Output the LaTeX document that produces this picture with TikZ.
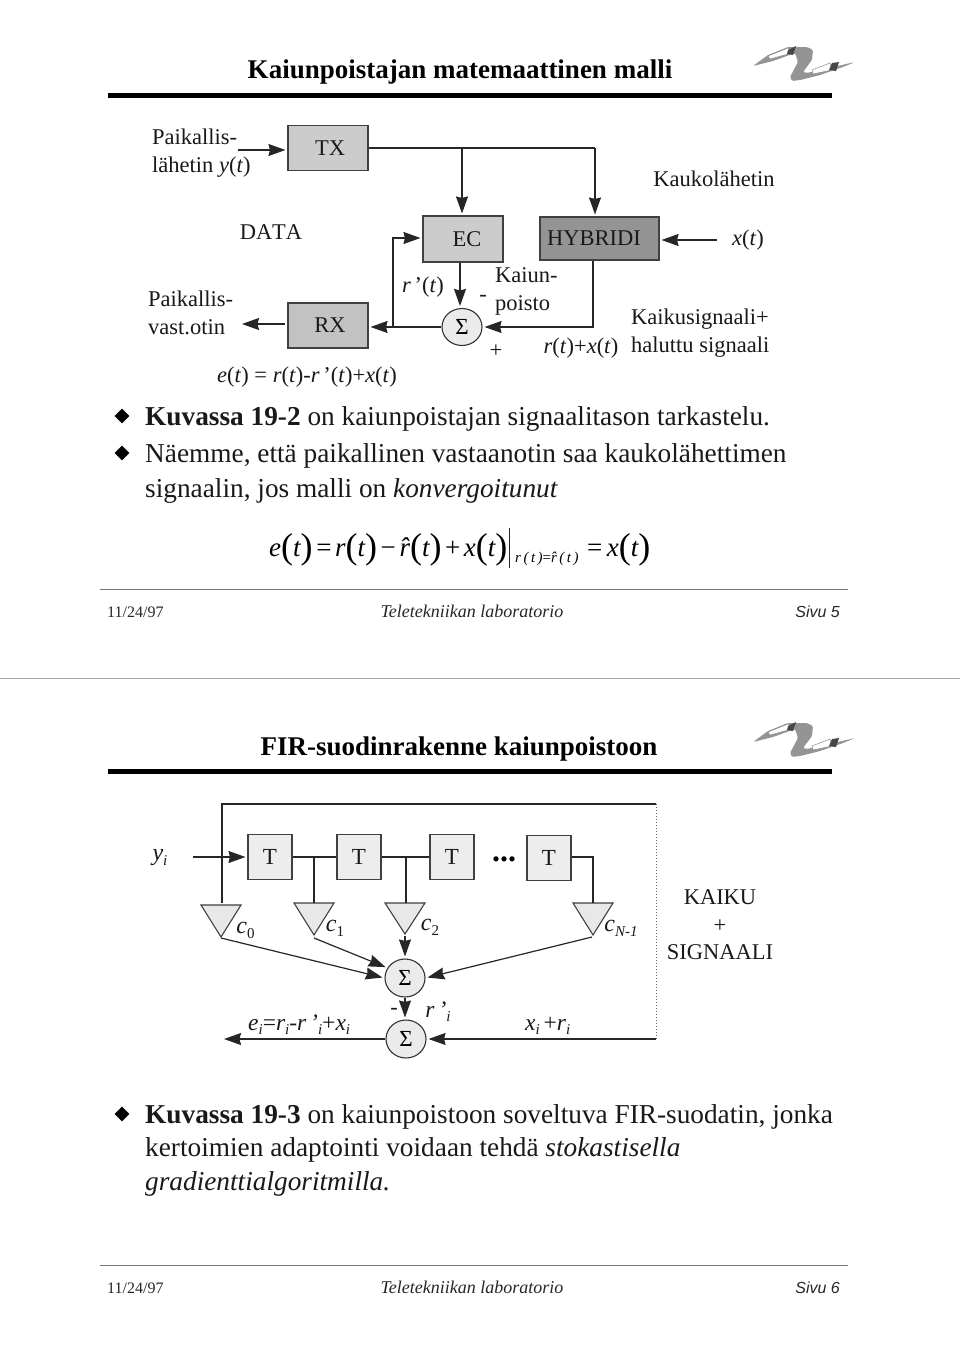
\documentclass[tikz,border=0pt]{standalone}
\usepackage{fontspec}
\setmainfont{Liberation Serif}
\newfontfamily\helv{Liberation Sans}
\usetikzlibrary{arrows.meta,shapes.geometric}
\newcommand{\fs}[1]{\fontsize{#1}{#1}\selectfont}
\newcommand{\bigp}[1]{{\fs{36}\upshape\raisebox{-2pt}{#1}}}
\newcommand{\sbi}[1]{{\fs{15}\raisebox{-4pt}{#1}}}
\tikzset{
  x=1pt,y=-1pt,
  wire/.style={draw=black!85,line width=1.2pt},
  arr/.style={wire,-{Stealth[length=17pt,width=12pt,inset=1.5pt]},shorten >=2pt},
  blk/.style={draw=black!75,line width=1.1pt,minimum width=#1,inner sep=0pt,anchor=center,font=\fs{22.5},text=black!90},
  blk/.default=80pt,
  dtxt/.style={inner sep=0pt,font=\fs{22.5},align=center,text=black!90},
  body/.style={inner sep=0pt,font=\fs{27.3},anchor=base west,text=black!90},
  foot/.style={inner sep=0pt,font=\fs{18},anchor=base,text=black!85},
  datef/.style={inner sep=0pt,font=\fs{16},anchor=base west,text=black!85},
  pagef/.style={inner sep=0pt,font=\helv\itshape\fs{16},anchor=base east,text=black!85},
  tbox/.style={draw=black!75,line width=1.1pt,fill=black!7,minimum width=44pt,minimum height=45pt,inner sep=0pt,font=\fs{23},text=black!90},
  sig/.style={ellipse,draw=black!80,line width=1.1pt,fill=black!8,minimum width=40pt,minimum height=37pt,inner sep=0pt,font=\fs{23}},
  tri/.style={draw=black!75,line width=1.1pt,fill=black!9},
  heading/.style={inner sep=0pt,font=\bfseries\fs{27},text=black},
  bullet/.style={diamond,aspect=0.75,fill=black,minimum width=15pt,minimum height=15pt,inner sep=0pt},
  hrule/.style={draw=black!55,line width=0.8pt},
  logogray/.style={fill=black!42,rounded corners=1.5pt},
  logodark/.style={fill=black!72},
  logowhite/.style={fill=white,draw=black!45,line width=0.5pt},
}
\newcommand{\logo}[1]{%
\begin{scope}[shift={(0,#1)}]
  \fill[logogray] (753,66) -- (768,55) -- (788,47) -- (807,47) -- (813,50) -- (812,60) -- (803,72) -- (807,73) -- (855,62) -- (843,67) -- (820,75) -- (800,80) -- (792,81) -- (790,77) -- (798,62) -- (795,53) -- (773,61) -- cycle;
  \fill[logowhite] (768,56) -- (788,48) -- (792,53) -- (770,59) -- cycle;
  \fill[logowhite] (812,70) -- (830,63) -- (832,70) -- (813,74) -- cycle;
  \fill[logodark] (788,50) -- (796,46) -- (793,55) -- (787,54) -- cycle;
  \fill[logodark] (832,63) -- (839,62) -- (836,71) -- (829,70) -- cycle;
\end{scope}}
\begin{document}
\begin{tikzpicture}
\useasboundingbox (0,0) rectangle (960,1357);
\fill[white] (0,0) rectangle (960,1357);

% ---------- slide 1
\node[heading] (title1) at (460,72) {Kaiunpoistajan matemaattinen malli};
\logo{0}
\fill[black] (108,93) rectangle (832,98);

\node[blk,minimum height=45pt,fill=black!20] (tx) at (328,148) {\kern4pt TX};
\node[blk,minimum height=46pt,fill=black!20] (ec) at (463,239) {\kern8pt EC};
\node[blk=119pt,minimum height=43pt,fill=black!42] (hy) at (599.5,238.5) {HYBRIDI\kern11pt};
\node[blk,minimum height=45pt,fill=black!24] (rx) at (328,325.5) {\kern4pt RX};
\node[sig] (s0) at (462,327) {Σ};

\node[dtxt,align=left,anchor=north west] (lt) at (152,129) {Paikallis-\\[5.5pt]lähetin \textit{y}(\textit{t})};
\node[dtxt,align=left,anchor=north west] (lr) at (148,291) {Paikallis-\\[5.5pt]vast.otin};
\node[dtxt] (data) at (271,232) {\addfontfeature{Kerning=Off}DATA};
\node[dtxt] (kl) at (714,179) {Kaukolähetin};
\node[dtxt] (xt) at (748,240) {\textit{x}(\textit{t})};
\node[dtxt] (rp) at (423,287) {\textit{r}\,’(\textit{t})};
\node[dtxt] (minus) at (483,298) {-};
\node[dtxt,align=left,anchor=north west] (kp) at (495,267) {Kaiun-\\[5.5pt]poisto};
\node[dtxt] (plus) at (496,351) {+};
\node[dtxt] (rx2) at (581,348) {\textit{r}(\textit{t})+\textit{x}(\textit{t})};
\node[dtxt,align=left,anchor=north west] (ks) at (631,309) {Kaikusignaali+\\[5.5pt]haluttu signaali};
\node[dtxt] (et) at (307,377) {\textit{e}(\textit{t}) = \textit{r}(\textit{t})-\textit{r}\,’(\textit{t})+\textit{x}(\textit{t})};

\coordinate (a1) at (238,150);
\coordinate (a2) at (286,150);
\coordinate (b1) at (595,148);
\coordinate (b2) at (462,148);
\coordinate (c1) at (717,240);
\coordinate (d1) at (393,327);
\coordinate (d2) at (393,238);
\coordinate (f1) at (593,327);
\coordinate (g1) at (285,324);
\coordinate (g2) at (240,324);
\draw[arr] (a1) -- (a2 -| tx.west);
\draw[wire] (tx.east |- b2) -- (b1);
\draw[arr] (b1) -- (b1 |- hy.north);
\draw[arr] (b2) -- (b2 |- ec.north);
\draw[arr] (c1) -- (c1 -| hy.east);
\draw[arr] (ec.south -| 460,0) -- (s0.north -| 460,0);
\draw[arr] (s0.west) -- (s0.west -| rx.east);
\draw[arr] (d1) -- (d2) -- (d2 -| ec.west);
\draw[arr] (hy.south -| f1) -- (f1) -- (s0.east);
\draw[arr] (g1) -- (g2);

\node[bullet] (b11) at (122,416) {};
\node[body] (t11) at (145,425) {\textbf{Kuvassa 19-2} on kaiunpoistajan signaalitason tarkastelu.};
\node[bullet] (b12) at (122,453) {};
\node[body] (t12) at (145,462) {Näemme, että paikallinen vastaanotin saa kaukolähettimen};
\node[body] (t13) at (145,497) {signaalin, jos malli on \textit{konvergoitunut}};

\node[inner sep=0pt,anchor=base west,font=\fs{27}\itshape] (eql) at (269,556)
  {e\bigp{(}t\bigp{)}\kern3.6pt{\upshape=}\kern3.6pt r\bigp{(}t\bigp{)}\kern3.6pt{\upshape−}\kern3.6pt\^r\bigp{(}t\bigp{)}\kern3.6pt{\upshape+}\kern3.6pt x\bigp{(}t\bigp{)}};
\draw[draw=black!85,line width=0.8pt] (509,528) -- (509,568);
\node[inner sep=0pt,anchor=base west,font=\fs{15}\itshape] (eqs) at (515,562) {r\,(\,t\,){\upshape=}\^r\,(\,t\,)};
\node[inner sep=0pt,anchor=base west,font=\fs{27}\itshape] (eqr) at (587,556) {{\upshape=}\,x\bigp{(}t\bigp{)}};

\draw[hrule] (100,589) -- (848,589);
\node[datef] (d1f) at (107,617) {11/24/97};
\node[foot,font=\itshape\fs{18}] (l1f) at (472,617) {Teletekniikan laboratorio};
\node[pagef] (p1f) at (840,617) {Sivu 5};

\draw[draw=black!35,line width=0.8pt] (0,678) -- (960,678);

% ---------- slide 2
\node[heading] (title2) at (459,749) {FIR-suodinrakenne kaiunpoistoon};
\logo{676}
\fill[black] (108,769) rectangle (832,774);

\node[tbox] (t1) at (270,857) {T};
\node[tbox] (t2) at (359,857) {T};
\node[tbox] (t3) at (452,857) {T};
\node[tbox] (t4) at (549,858) {T};
\node[inner sep=0pt,font=\bfseries\fs{32}] (dots) at (504,859) {...};

\node[sig,minimum height=38pt] (s1) at (405,978) {Σ};
\node[sig,minimum height=38pt] (s2) at (406,1039) {Σ};

\draw[tri] (201,905) -- (241,905) -- (221,937) -- cycle;
\draw[tri] (294,903) -- (334,903) -- (314,935) -- cycle;
\draw[tri] (385,903) -- (425,903) -- (405,934) -- cycle;
\draw[tri] (573,903) -- (613,903) -- (593,935) -- cycle;

\coordinate (top0) at (222,804);
\coordinate (topr) at (656,804);
\coordinate (botr) at (656,1039);
\coordinate (yin) at (193,857);
\coordinate (c0t) at (222,903);
\coordinate (c1t) at (314,903);
\coordinate (c2t) at (406,903);
\coordinate (cNt) at (593,903);
\coordinate (c0b) at (221,938);
\coordinate (c1b) at (314,938);
\coordinate (c2b) at (405,936);
\coordinate (cNb) at (592,937);
\coordinate (out) at (222,1039);

\draw[wire] (c0t) -- (top0) -- (topr);
\draw[draw=black!60,line width=1pt,dotted] (topr) -- (botr);
\draw[arr] (yin) -- (t1.west);
\draw[wire] (t1.east) -- (t2.west);
\draw[wire] (t2.east) -- (t3.west);
\draw[wire] (c1t) -- (c1t |- t1.east);
\draw[wire] (c2t) -- (c2t |- t2.east);
\draw[wire] (t4.east |- yin) -- (cNt |- yin) -- (cNt);
\draw[arr] (c2b) -- (s1.north);
\draw[arr] (c1b) -- (s1.150);
\draw[arr] (c0b) -- (s1.west);
\draw[arr] (cNb) -- (s1.east);
\draw[arr] (s1.south) -- (s2.north -| s1.south);
\draw[arr] (s2.west) -- (out);
\draw[arr] (botr) -- (s2.east);

\node[dtxt,font=\fs{24}\itshape] (ly) at (160,858) {y{\fs{15}\raisebox{-5pt}{i}}};
\node[dtxt,font=\fs{24}\itshape] (lc0) at (245.5,930) {c{\upshape\fs{15}\raisebox{-5pt}{0}}};
\node[dtxt,font=\fs{24}\itshape] (lc1) at (335,928) {c{\upshape\fs{15}\raisebox{-5pt}{1}}};
\node[dtxt,font=\fs{24}\itshape] (lc2) at (430,927) {c{\upshape\fs{15}\raisebox{-5pt}{2}}};
\node[dtxt,font=\fs{24}\itshape] (lcN) at (621,928) {c{\fs{15}\raisebox{-5pt}{N-1}}};
\node[dtxt,font=\fs{23.5}\itshape,anchor=base west] (lei) at (248,1030) {e\sbi{i}{\upshape=}r\sbi{i}{\upshape-}r\,’\sbi{i}{\upshape+}x\sbi{i}};
\node[dtxt] (lm) at (394,1011) {-};
\node[dtxt,font=\fs{23.5}\itshape] (lri) at (438,1012) {r\,’\sbi{i}};
\node[dtxt,font=\fs{23.5}\itshape,anchor=base west] (lxr) at (525,1030) {x\sbi{i}\,{\upshape+}r\sbi{i}};
\node[dtxt,font=\fs{22.5},align=center] (kk) at (720,925) {KAIKU\\[5pt]+\\[5pt]SIGNAALI};

\node[bullet] (b21) at (122,1114) {};
\node[body] (t21) at (145,1123) {\textbf{Kuvassa 19-3} on kaiunpoistoon soveltuva FIR-suodatin, jonka};
\node[body] (t22) at (145,1156) {kertoimien adaptointi voidaan tehdä \textit{stokastisella}};
\node[body] (t23) at (145,1190) {\textit{gradienttialgoritmilla.}};

\draw[hrule] (100,1265) -- (848,1265);
\node[datef] (d2f) at (107,1293) {11/24/97};
\node[foot,font=\itshape\fs{18}] (l2f) at (472,1293) {Teletekniikan laboratorio};
\node[pagef] (p2f) at (840,1293) {Sivu 6};
\end{tikzpicture}
\end{document}
